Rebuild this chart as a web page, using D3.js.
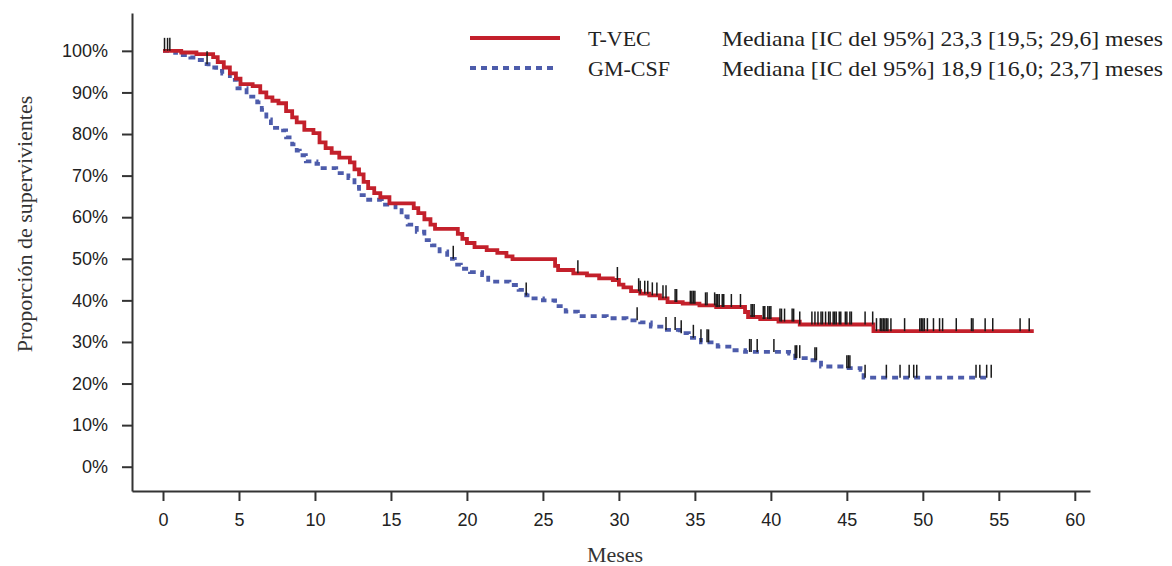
<!DOCTYPE html>
<html>
<head>
<meta charset="utf-8">
<script src="https://cdn.jsdelivr.net/npm/d3@7"></script>
<style>
  body { margin: 0; background: #fff; }
  svg { display: block; }
</style>
</head>
<body>
<script>
// Kaplan-Meier steps (months, % survival after step)
const tvecMonths = [0, 1.2, 2.2, 3.3, 3.6, 4.0, 4.4, 4.8, 5.1, 5.9, 6.4, 6.8, 7.2, 7.6, 8.1, 8.5, 8.8, 9.3, 9.9, 10.3, 10.7, 11.1, 11.6, 12.3, 12.6, 12.9, 13.2, 13.5, 13.9, 14.3, 14.9, 16.5, 16.8, 17.2, 17.6, 17.9, 19.4, 19.7, 20.0, 20.5, 21.3, 22.0, 22.6, 23.0, 25.8, 26.0, 27.0, 27.9, 28.7, 29.6, 30.0, 30.3, 30.8, 31.4, 32.0, 32.7, 33.2, 34.2, 35.3, 36.4, 38.3, 38.5, 39.3, 40.5, 41.9, 46.75, 57.3]
const tvecSurv = [100, 99.6, 99.2, 98.5, 97.3, 96, 94.6, 93.3, 92, 91.5, 90, 88.8, 88, 87.4, 85.5, 84, 82.8, 81, 80.2, 78, 76.6, 75.5, 74.3, 73.2, 71.5, 70.3, 68.5, 67, 65.8, 64.8, 63.3, 62.2, 61, 59.5, 58.2, 57.2, 56, 54.8, 53.8, 52.8, 52.1, 51.4, 50.6, 49.9, 48.3, 47.3, 46.5, 46, 45.3, 44.9, 43.8, 43.1, 42.2, 41.6, 41.2, 40.5, 39.6, 39.2, 38.8, 38.4, 37.2, 36, 35.5, 34.9, 34.2, 32.6, 32.6]

const gmcsfMonths = [0, 0.8, 1.3, 1.8, 2.2, 2.7, 3.0, 3.5, 3.9, 4.4, 4.9, 5.5, 6.2, 6.5, 6.8, 7.1, 7.9, 8.1, 8.5, 8.8, 9.0, 9.4, 10.1, 10.5, 11.4, 12.2, 12.6, 12.9, 13.5, 14.4, 15.3, 15.7, 16.1, 16.7, 17.2, 17.7, 18.2, 18.7, 19.2, 19.6, 20.2, 21.0, 21.4, 22.8, 23.4, 23.9, 24.2, 25.0, 25.8, 26.5, 27.3, 29.2, 30.5, 31.4, 32.1, 33.0, 34.0, 34.6, 35.4, 36.5, 37.4, 38.3, 41.2, 41.6, 42.5, 43.3, 44.8, 45.9, 46.1, 54.5]
const gmcsfSurv = [100, 99.5, 99, 98.4, 97.8, 96.8, 96, 95.2, 94.5, 93, 91, 89, 87.6, 85.8, 83.5, 81.5, 80.9, 79.2, 77.5, 76, 74.9, 73.4, 72.8, 71.8, 70.6, 69.4, 67.3, 65.3, 64.2, 63, 61.7, 60.2, 58.2, 56.5, 54.5, 53.2, 51.8, 50, 48.6, 47.6, 46.8, 46.1, 44.5, 43.7, 42.5, 41.2, 40.5, 40, 38.6, 37.3, 36.2, 35.7, 35.2, 34.7, 33.7, 32.9, 32.1, 31, 29.9, 28.9, 28, 27.6, 27.2, 26.1, 25.6, 24.1, 23.7, 23.3, 21.4, 21.4]

// censored observations (months)
const tvecCensor = [0.1, 0.3, 0.45, 27.3, 29.9, 31.3, 31.4, 31.7, 31.9, 32.2, 32.5, 32.9, 33.1, 33.7, 33.8, 34.7, 34.8, 34.9, 35.0, 35.7, 35.8, 36.3, 36.4, 36.5, 36.6, 36.8, 36.9, 37.4, 38.0, 38.7, 38.8, 38.9, 39.5, 39.6, 39.8, 39.9, 40.0, 40.6, 40.7, 40.9, 41.4, 41.5, 41.9, 42.7, 42.9, 43.1, 43.3, 43.4, 43.6, 43.8, 43.9, 44.1, 44.2, 44.3, 44.5, 44.6, 44.9, 45.0, 45.2, 45.3, 46.2, 46.7, 46.95, 47.2, 47.3, 47.4, 47.5, 47.6, 47.7, 47.9, 48.8, 49.8, 49.9, 50.0, 50.1, 50.3, 50.7, 51.1, 51.3, 52.2, 53.2, 53.3, 54.1, 54.6, 56.4, 57.0]
const gmcsfCensor = [2.9, 19.1, 23.9, 31.2, 33.1, 33.7, 34.1, 34.9, 35.4, 35.8, 35.9, 38.6, 38.7, 39.1, 40.2, 41.6, 41.7, 41.9, 42.9, 43.0, 45.0, 45.1, 45.2, 46.2, 47.6, 48.5, 49.1, 49.4, 49.6, 53.5, 53.75, 54.2, 54.5]

const xTicks = [0, 5, 10, 15, 20, 25, 30, 35, 40, 45, 50, 55, 60]
const yTicks = [0, 10, 20, 30, 40, 50, 60, 70, 80, 90, 100]
const seriesNames = ['T-VEC', 'GM-CSF']
const medianTexts = ['Mediana [IC del 95%] 23,3 [19,5; 29,6] meses', 'Mediana [IC del 95%] 18,9 [16,0; 23,7] meses']
const xTitle = 'Meses'
const yTitle = 'Proporción de supervivientes'

graph()

function graph() {
    const width = 1172
    const height = 566
    const red = '#c3202b'
    const blue = '#4d5cab'

    const xScale = d3.scaleLinear().domain([-2.04, 61]).range([132, 1090])
    const yScale = d3.scaleLinear().domain([-5.84, 109.1]).range([491, 13])

    const svg = d3.select('body')
        .append('svg')
        .attr('width', width)
        .attr('height', height)

    const xAxis = d3.axisBottom(xScale)
        .tickValues(xTicks)
        .tickSize(10)
        .tickSizeOuter(0)
        .tickPadding(12)
        .tickFormat(d3.format('d'))

    const yAxis = d3.axisLeft(yScale)
        .tickValues(yTicks)
        .tickSize(10)
        .tickSizeOuter(0)
        .tickPadding(14)
        .tickFormat(d => d + '%')

    svg.append('g')
        .attr('class', 'x axis')
        .attr('transform', 'translate(0,' + yScale.range()[0] + ')')
        .call(xAxis)

    svg.append('g')
        .attr('class', 'y axis')
        .attr('transform', 'translate(' + xScale.range()[0] + ',0)')
        .call(yAxis)

    svg.selectAll('.axis path, .axis line')
        .attr('stroke', '#333')
        .attr('stroke-width', 2)
    svg.selectAll('.axis text')
        .attr('fill', '#222')
        .style('font-family', '"Liberation Sans", Arial, sans-serif')
        .style('font-size', '18px')

    // axis titles
    svg.append('text')
        .attr('x', 615)
        .attr('y', 562)
        .attr('text-anchor', 'middle')
        .style('font-family', '"Liberation Serif", "Times New Roman", serif')
        .style('font-size', '22px')
        .attr('fill', '#333')
        .text(xTitle)

    svg.append('text')
        .attr('transform', 'translate(32,224) rotate(-90)')
        .attr('text-anchor', 'middle')
        .style('font-family', '"Liberation Serif", "Times New Roman", serif')
        .style('font-size', '22px')
        .attr('fill', '#333')
        .text(yTitle)

    const series = [
        { name: seriesNames[0], months: tvecMonths, surv: tvecSurv, censor: tvecCensor, color: red, dash: null },
        { name: seriesNames[1], months: gmcsfMonths, surv: gmcsfSurv, censor: gmcsfCensor, color: blue, dash: '6,5' }
    ]

    const line = d3.line()
        .curve(d3.curveStepAfter)
        .x(d => xScale(d[0]))
        .y(d => yScale(d[1]))

    // draw GM-CSF first so T-VEC sits on top
    series.slice().reverse().forEach(s => {
        const pts = s.months.map((m, i) => [m, s.surv[i]])
        svg.append('path')
            .datum(pts)
            .attr('fill', 'none')
            .attr('stroke', s.color)
            .attr('stroke-width', 3.8)
            .attr('stroke-dasharray', s.dash)
            .attr('d', line)
    })

    // censor ticks
    const bis = d3.bisector(d => d).right
    series.forEach(s => {
        const survAt = t => s.surv[Math.max(0, bis(s.months, t) - 1)]
        svg.append('g')
            .selectAll('line')
            .data(s.censor)
            .enter()
            .append('line')
            .attr('x1', d => xScale(d))
            .attr('x2', d => xScale(d))
            .attr('y1', d => yScale(survAt(d)))
            .attr('y2', d => yScale(survAt(d)) - 13)
            .attr('stroke', '#1a1a1a')
            .attr('stroke-width', 1.5)
    })

    // legend
    const legend = svg.selectAll('.legend')
        .data(series)
        .enter()
        .append('g')
        .attr('class', 'legend')

    legend.append('line')
        .attr('x1', 470)
        .attr('x2', (d, i) => i == 0 ? 560 : 556)
        .attr('y1', (d, i) => 38 + i * 30)
        .attr('y2', (d, i) => 38 + i * 30)
        .attr('stroke', d => d.color)
        .attr('stroke-width', 3.8)
        .attr('stroke-dasharray', d => d.dash)

    legend.append('text')
        .attr('x', 588)
        .attr('y', (d, i) => 46 + i * 30)
        .style('font-family', '"Liberation Serif", "Times New Roman", serif')
        .style('font-size', '22px')
        .attr('fill', '#222')
        .text(d => d.name)

    legend.append('text')
        .attr('x', 722)
        .attr('y', (d, i) => 46 + i * 30)
        .attr('textLength', 441)
        .attr('lengthAdjust', 'spacingAndGlyphs')
        .style('font-family', '"Liberation Serif", "Times New Roman", serif')
        .style('font-size', '22px')
        .attr('fill', '#222')
        .text((d, i) => medianTexts[i])
}
</script>
</body>
</html>
